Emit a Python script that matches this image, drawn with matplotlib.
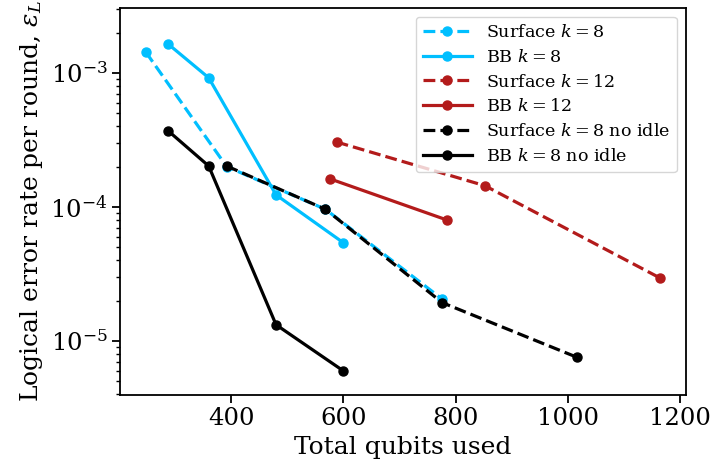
import numpy as np
import matplotlib.pyplot as plt

plt.rcParams['font.family'] = 'DejaVu Serif'
plt.rcParams['mathtext.fontset'] = 'dejavuserif'

# qubit counts and logical error rates per round
surf8_q = [248, 392, 568, 776]
surf8_err = [1.43e-3, 2.0e-4, 9.6e-5, 2.05e-5]

bb8_q = [288, 360, 480, 600]
bb8_err = [1.64e-3, 9.2e-4, 1.23e-4, 5.4e-5]

surf12_q = [588, 852, 1164]
surf12_err = [3.05e-4, 1.44e-4, 2.95e-5]

bb12_q = [576, 784]
bb12_err = [1.62e-4, 8.0e-5]

surf8_noidle_q = [392, 568, 776, 1016]
surf8_noidle_err = [2.02e-4, 9.6e-5, 1.93e-5, 7.55e-6]

bb8_noidle_q = [288, 360, 480, 600]
bb8_noidle_err = [3.69e-4, 2.02e-4, 1.32e-5, 5.97e-6]

cyan = '#00bfff'
red = '#b31b1b'

fig = plt.figure(figsize=(7.15, 4.73), dpi=100)
ax = fig.add_axes([0.168, 0.165, 0.791, 0.818])

kw = dict(marker='o', lw=2.3, ms=6.5)
ax.plot(surf8_q, surf8_err, '--', color=cyan, label='Surface $k=8$', **kw)
ax.plot(bb8_q, bb8_err, '-', color=cyan, label='BB $k=8$', **kw)
ax.plot(surf12_q, surf12_err, '--', color=red, label='Surface $k=12$', **kw)
ax.plot(bb12_q, bb12_err, '-', color=red, label='BB $k=12$', **kw)
ax.plot(surf8_noidle_q, surf8_noidle_err, '--', color='black',
        label='Surface $k=8$ no idle', **kw)
ax.plot(bb8_noidle_q, bb8_noidle_err, '-', color='black',
        label='BB $k=8$ no idle', **kw)

ax.set_yscale('log')
ax.set_ylim(3.95e-6, 3.05e-3)
ax.set_xlabel('Total qubits used', fontsize=18)
ax.set_ylabel(r'Logical error rate per round, $\epsilon_L$', fontsize=18)
ax.tick_params(axis='both', which='major', labelsize=17.5, length=5.5, width=1.3)
ax.tick_params(axis='both', which='minor', length=3, width=1.0)
for s in ax.spines.values():
    s.set_linewidth(1.3)
ax.legend(loc='upper right', fontsize=12.6, handlelength=2.8, labelspacing=0.45)

fig.savefig('out.png', dpi=100)
